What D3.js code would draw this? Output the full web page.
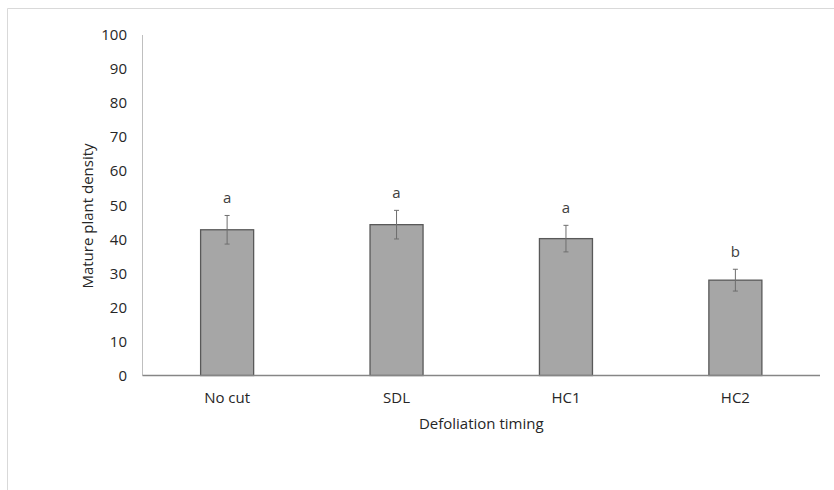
<!DOCTYPE html>
<html>
<head>
<meta charset="utf-8">
<script src="https://cdn.jsdelivr.net/npm/d3@7"></script>
<style>
  body { margin: 0; background: #fff; }
  text { font-family: "Open Sans", "Noto Sans", sans-serif; fill: #262626; }
</style>
</head>
<body>
<div id="chart"></div>
<script>
let categories = ["No cut", "SDL", "HC1", "HC2"];
let means = [42.8, 44.3, 40.2, 28.0];
let errors = [4.2, 4.2, 3.9, 3.2];
let letters = ["a", "a", "a", "b"];
let yTicks = [0, 10, 20, 30, 40, 50, 60, 70, 80, 90, 100];

let svg = d3.select("#chart").append("svg")
	.attr("width", 834)
	.attr("height", 490);

// chart frame (only top and left edges show in the picture)
svg.append("path")
	.attr("d", "M7.5,490 V8.5 H834")
	.attr("fill", "none")
	.attr("stroke", "#d9d9d9")
	.attr("stroke-width", 1);

let plot_left = 142.5, plot_right = 820, plot_top = 35, plot_bottom = 375.5;

let x = d3.scaleBand()
	.domain(categories)
	.range([plot_left, plot_right])
	.paddingInner(0.687)
	.paddingOuter(0.343);

let y = d3.scaleLinear()
	.domain([0, 100])
	.range([plot_bottom, plot_top]);

// y axis line and labels
svg.append("line")
	.attr("x1", plot_left).attr("x2", plot_left)
	.attr("y1", y(100)).attr("y2", y(0))
	.attr("stroke", "#bfbfbf");

svg.selectAll(".ytick").data(yTicks).enter().append("text")
	.attr("class", "ytick")
	.attr("x", 127)
	.attr("y", d => y(d))
	.attr("dy", "0.35em")
	.attr("text-anchor", "end")
	.style("font-size", "15px")
	.text(d => d);

// bars
let bw = x.bandwidth();
svg.selectAll(".bar").data(means).enter().append("rect")
	.attr("class", "bar")
	.attr("x", (d, i) => x(categories[i]))
	.attr("y", d => y(d))
	.attr("width", bw)
	.attr("height", d => y(0) - y(d))
	.attr("fill", "#a6a6a6")
	.attr("stroke", "#595959")
	.attr("stroke-width", 1.3);

// x axis line
svg.append("line")
	.attr("x1", plot_left).attr("x2", plot_right)
	.attr("y1", y(0)).attr("y2", y(0))
	.attr("stroke", "#868686")
	.attr("stroke-width", 1.3);

// error bars
let errG = svg.selectAll(".err").data(means).enter().append("g")
	.attr("class", "err")
	.attr("stroke", "#6e6e6e")
	.attr("stroke-width", 1);

errG.append("line")
	.attr("x1", (d, i) => x(categories[i]) + bw / 2)
	.attr("x2", (d, i) => x(categories[i]) + bw / 2)
	.attr("y1", (d, i) => y(d + errors[i]))
	.attr("y2", (d, i) => y(d - errors[i]));

errG.append("line")
	.attr("x1", (d, i) => x(categories[i]) + bw / 2 - 2.5)
	.attr("x2", (d, i) => x(categories[i]) + bw / 2 + 2.5)
	.attr("y1", (d, i) => y(d + errors[i]))
	.attr("y2", (d, i) => y(d + errors[i]));

errG.append("line")
	.attr("x1", (d, i) => x(categories[i]) + bw / 2 - 2.5)
	.attr("x2", (d, i) => x(categories[i]) + bw / 2 + 2.5)
	.attr("y1", (d, i) => y(d - errors[i]))
	.attr("y2", (d, i) => y(d - errors[i]));

// significance letters
svg.selectAll(".letter").data(letters).enter().append("text")
	.attr("class", "letter")
	.attr("x", (d, i) => x(categories[i]) + bw / 2)
	.attr("y", (d, i) => y(means[i] + errors[i]) - 12)
	.attr("text-anchor", "middle")
	.style("font-size", "15px")
	.style("fill", "#404040")
	.text(d => d);

// category labels
svg.selectAll(".xlab").data(categories).enter().append("text")
	.attr("class", "xlab")
	.attr("x", d => x(d) + bw / 2)
	.attr("y", 398)
	.attr("dy", "0.35em")
	.attr("text-anchor", "middle")
	.style("font-size", "15px")
	.text(d => d);

// axis titles
svg.append("text")
	.attr("x", (plot_left + plot_right) / 2)
	.attr("y", 424)
	.attr("dy", "0.35em")
	.attr("text-anchor", "middle")
	.style("font-size", "15px")
	.text("Defoliation timing");

svg.append("text")
	.attr("transform", "translate(88,216) rotate(-90)")
	.attr("dy", "0.35em")
	.attr("text-anchor", "middle")
	.style("font-size", "15px")
	.text("Mature plant density");
</script>
</body>
</html>
